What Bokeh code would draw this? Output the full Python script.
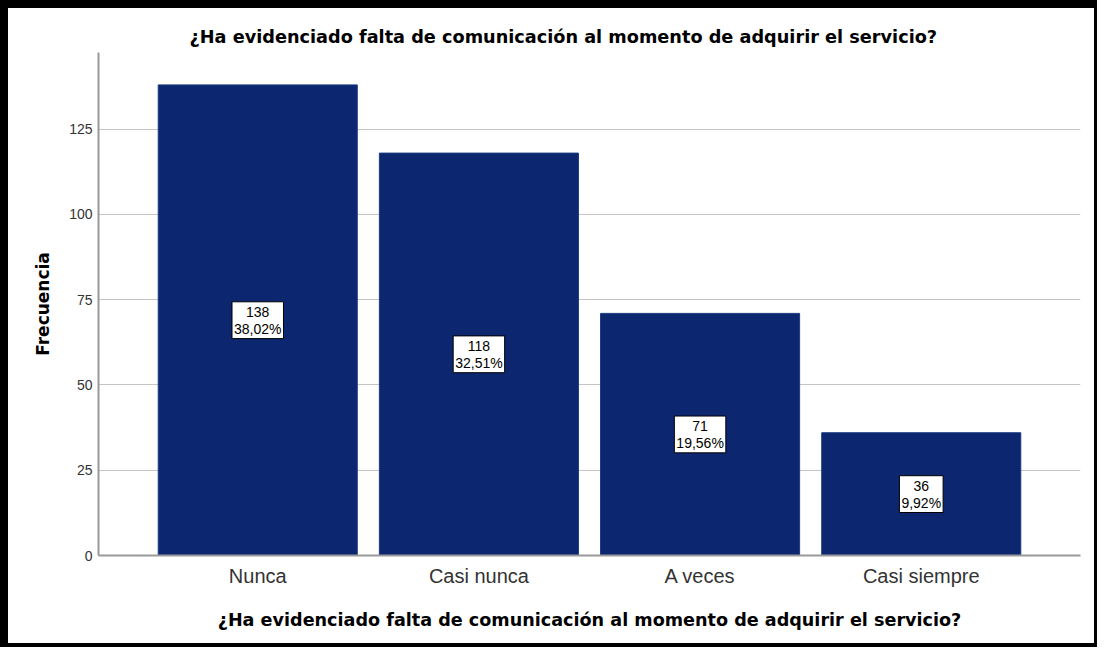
from bokeh.plotting import figure
from bokeh.models import Range1d, FixedTicker, ColumnDataSource
from bokeh.core.properties import value
from bokeh.embed import file_html
from bokeh.resources import INLINE

# ---- data ----
categories = ["Nunca", "Casi nunca", "A veces", "Casi siempre"]
counts = [138, 118, 71, 36]
percents = [38.02, 32.51, 19.56, 9.92]
y_ticks = [0, 25, 50, 75, 100, 125]
title_text = "¿Ha evidenciado falta de comunicación al momento de adquirir el servicio?"
x_label = "¿Ha evidenciado falta de comunicación al momento de adquirir el servicio?"
y_label = "Frecuencia"

labels = [f"{c}\n{p:.2f}".replace(".", ",") + "%" for c, p in zip(counts, percents)]
src = ColumnDataSource(dict(cat=categories, count=counts,
                            mid=[c / 2 for c in counts], label=labels))

BOLD = "DejaVu Sans"
REG = "Liberation Sans"

p = figure(x_range=categories, y_range=Range1d(0, 147.5),
           width=1097, height=647, output_backend="svg", toolbar_location=None,
           min_border_left=90, min_border_right=25, min_border_top=44, min_border_bottom=100,
           title=title_text)
p.styles = {"border-style": "solid", "border-color": "black",
            "border-width": "8px 3px 4px 8px", "box-sizing": "border-box"}

p.x_range.range_padding = 0.22
p.x_range.range_padding_units = "absolute"

p.title.align = "left"
p.title.offset = 91
p.title.standoff = 11
p.title.text_font = BOLD
p.title.text_font_size = "17.7px"
p.title.text_font_style = "bold"
p.title.text_color = "black"

p.outline_line_color = None
p.background_fill_color = "white"
p.border_fill_color = "white"

p.xgrid.grid_line_color = None
p.ygrid.grid_line_color = "#c4c4c4"
p.ygrid.grid_line_width = 1
p.yaxis.ticker = FixedTicker(ticks=y_ticks)

for ax in (p.xaxis, p.yaxis):
    ax.axis_line_color = "#9a9a9a"
    ax.axis_line_width = 2
    ax.major_tick_line_color = None
    ax.minor_tick_line_color = None
    ax.major_tick_out = 0
    ax.major_tick_in = 0
    ax.axis_label_text_font = BOLD
    ax.axis_label_text_font_style = "bold"
    ax.axis_label_text_color = "black"
    ax.major_label_text_font = REG
    ax.major_label_text_color = "#333333"

p.xaxis.axis_label = x_label
p.yaxis.axis_label = y_label
p.xaxis.axis_label_text_font_size = "17.6px"
p.yaxis.axis_label_text_font_size = "17px"
p.xaxis.major_label_text_font_size = "20px"
p.yaxis.major_label_text_font_size = "14px"
p.xaxis.major_label_standoff = 9
p.yaxis.major_label_standoff = 6
p.xaxis.axis_label_standoff = 20
p.yaxis.axis_label_standoff = 13

p.vbar(x="cat", top="count", width=0.9, bottom=0, source=src,
       fill_color="#0c276f", line_color="#1a3a80", line_width=1)

p.text(x="cat", y="mid", text="label", source=src,
       text_font=value(REG), text_font_size="14px", text_color="black",
       text_align="center", text_baseline="middle", text_line_height=1.05,
       background_fill_color="white", border_line_color="black",
       border_line_width=1, padding=2)

open("out.html", "w").write(file_html(p, INLINE))
